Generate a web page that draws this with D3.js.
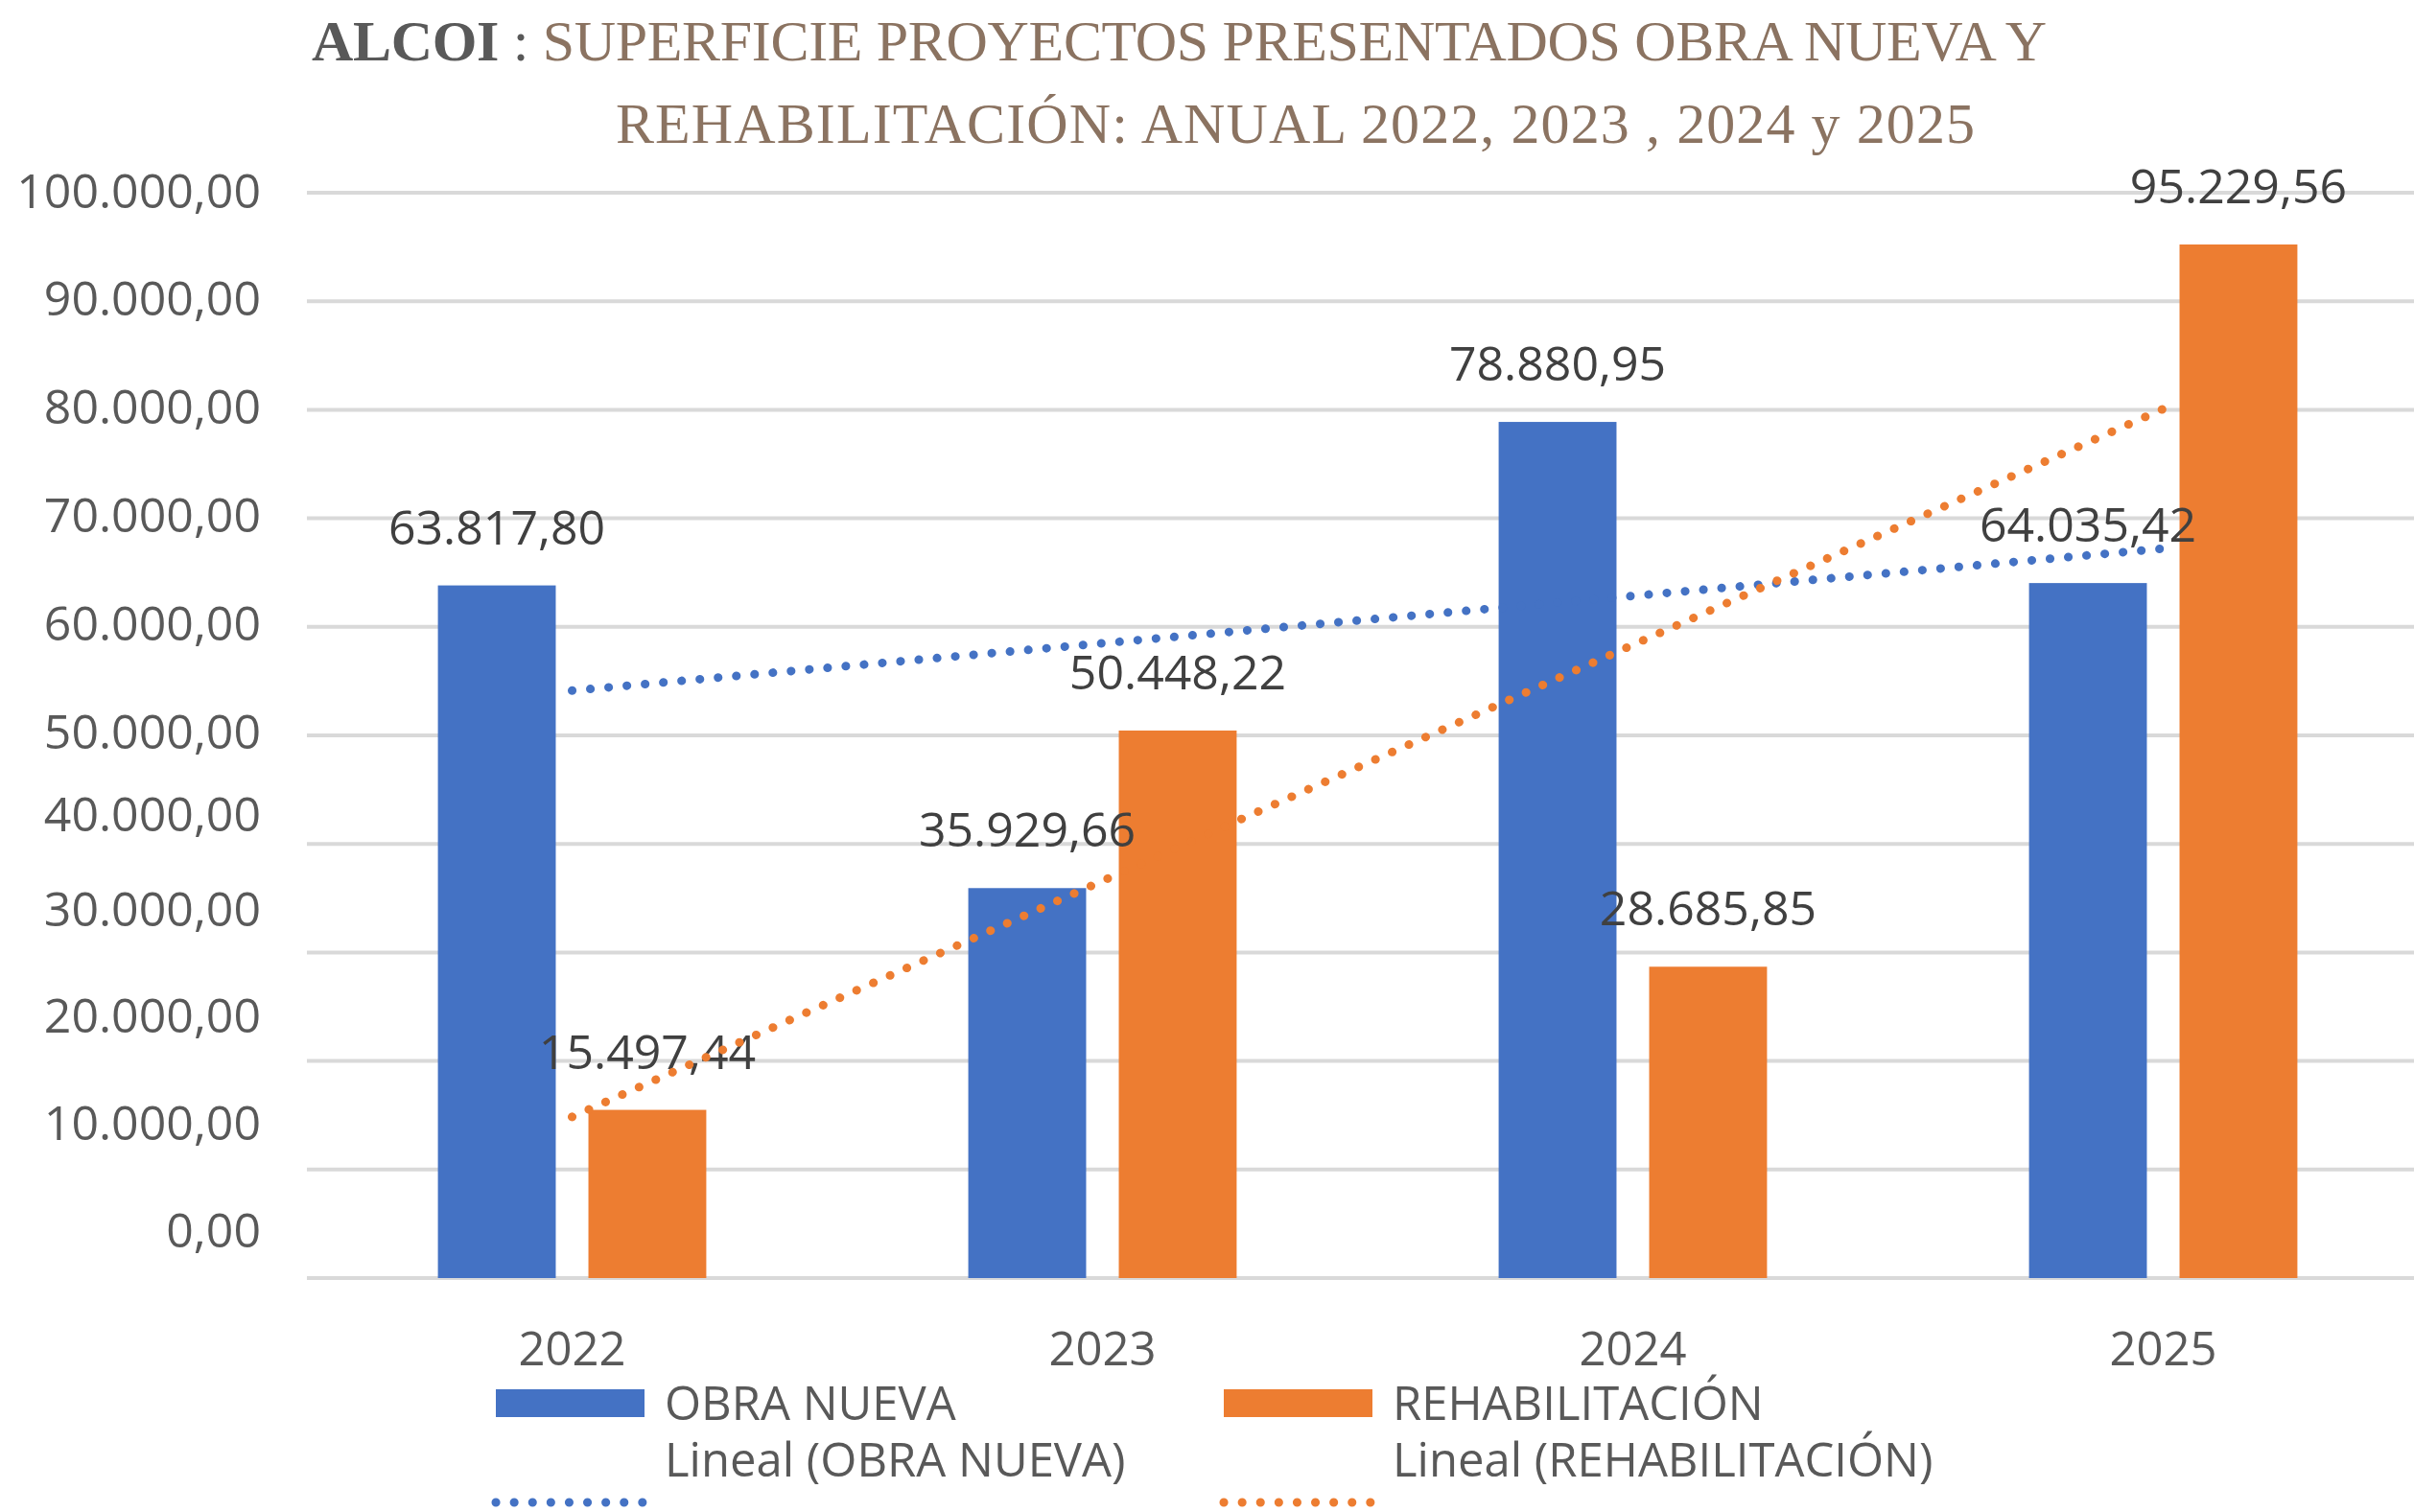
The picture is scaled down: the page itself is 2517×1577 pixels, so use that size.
<!DOCTYPE html>
<html>
<head>
<meta charset="utf-8">
<script src="https://cdn.jsdelivr.net/npm/d3@7"></script>
<style>
  body { margin: 0; background: #fff; }
  svg { display: block; }
</style>
</head>
<body>
<svg width="2517" height="1577"></svg>
<script>
// datos
var years = ["2022", "2023", "2024", "2025"];
var obraNueva = [63817.80, 35929.66, 78880.95, 64035.42];
var rehabilitacion = [15497.44, 50448.22, 28685.85, 95229.56];
var seriesNames = ["OBRA NUEVA", "REHABILITACIÓN"];
var trendNames = ["Lineal (OBRA NUEVA)", "Lineal (REHABILITACIÓN)"];
var yTicks = [0, 10000, 20000, 30000, 40000, 50000, 60000, 70000, 80000, 90000, 100000];

var colors = ["#4472C4", "#ED7D31"];
var allSeries = [obraNueva, rehabilitacion];

var es = d3.formatLocale({ decimal: ",", thousands: ".", grouping: [3], currency: ["", " €"] });
var fmt = es.format(",.2f");

var svg = d3.select("svg");
var font = "'Open Sans', 'Noto Sans', sans-serif";
var serif = "'Liberation Serif', 'Times New Roman', serif";

// escalas
var x0 = d3.scaleBand()
    .domain(years)
    .range([320, 2532])
    .paddingInner(0.494)
    .paddingOuter(0.247);

var x1 = d3.scaleBand()
    .domain(seriesNames)
    .range([0, x0.bandwidth()])
    .paddingInner(0.217);

var y = d3.scaleLinear()
    .domain([0, 100000])
    .range([1333, 201]);

// las etiquetas del eje van algo desplazadas respecto a la rejilla en la parte baja
var yLabel = d3.scaleLinear()
    .domain([0, 30000, 40000, 50000, 100000])
    .range([y(0) - 49, y(30000) - 44, y(40000) - 30, y(50000) - 3, y(100000) - 1]);

// rejilla
svg.append("g")
    .selectAll("line")
    .data(yTicks)
    .enter()
    .append("line")
    .attr("x1", 320)
    .attr("x2", 2517)
    .attr("y1", function (d) { return y(d); })
    .attr("y2", function (d) { return y(d); })
    .attr("stroke", "#d9d9d9")
    .attr("stroke-width", 4);

// eje y
var yAxis = svg.append("g")
    .attr("transform", "translate(320,0)")
    .call(d3.axisLeft(yLabel).tickValues(yTicks).tickFormat(fmt).tickSize(0).tickPadding(48));
yAxis.select(".domain").remove();
yAxis.selectAll("text")
    .attr("font-family", font)
    .attr("font-size", 50)
    .attr("fill", "#595959");

// eje x
var xAxis = svg.append("g")
    .attr("transform", "translate(0,1333)")
    .call(d3.axisBottom(x0.copy().paddingInner(0).paddingOuter(0)).tickSize(0).tickPadding(56));
xAxis.select(".domain").remove();
xAxis.selectAll("text")
    .attr("font-family", font)
    .attr("font-size", 49)
    .attr("fill", "#595959");

// barras
var rows = years.map(function (yr, i) {
    return { year: yr, values: seriesNames.map(function (s, j) { return { name: s, idx: j, value: allSeries[j][i] }; }) };
});

var groups = svg.selectAll("g.grupo")
    .data(rows)
    .enter()
    .append("g")
    .attr("class", "grupo")
    .attr("transform", function (d) { return "translate(" + x0(d.year) + ",0)"; });

groups.selectAll("rect")
    .data(function (d) { return d.values; })
    .enter()
    .append("rect")
    .attr("x", function (d) { return x1(d.name); })
    .attr("y", function (d) { return y(d.value); })
    .attr("width", x1.bandwidth())
    .attr("height", function (d) { return y(0) - y(d.value); })
    .attr("fill", function (d) { return colors[d.idx]; });

// lineas de tendencia (regresion lineal como en Excel)
function linReg(vals) {
    var n = vals.length;
    var xs = d3.range(1, n + 1);
    var mx = d3.mean(xs), my = d3.mean(vals);
    var num = d3.sum(xs, function (xv, i) { return (xv - mx) * (vals[i] - my); });
    var den = d3.sum(xs, function (xv) { return (xv - mx) * (xv - mx); });
    var b = num / den, a = my - b * mx;
    return xs.map(function (xv) { return a + b * xv; });
}

var trendLine = d3.line()
    .x(function (d, i) { return x0(years[i]) + x0.bandwidth() / 2; })
    .y(function (d) { return y(d); });

allSeries.forEach(function (vals, j) {
    svg.append("path")
        .datum(linReg(vals))
        .attr("d", trendLine)
        .attr("fill", "none")
        .attr("stroke", colors[j])
        .attr("stroke-width", 9)
        .attr("stroke-linecap", "round")
        .attr("stroke-dasharray", "0.1,19");
});

// etiquetas de datos
groups.selectAll("text.valor")
    .data(function (d) { return d.values; })
    .enter()
    .append("text")
    .attr("class", "valor")
    .attr("x", function (d) { return x1(d.name) + x1.bandwidth() / 2; })
    .attr("y", function (d) { return y(d.value) - 43; })
    .attr("text-anchor", "middle")
    .attr("font-family", font)
    .attr("font-size", 50)
    .attr("fill", "#404040")
    .text(function (d) { return fmt(d.value); });

// titulo
var title = svg.append("text")
    .attr("x", 325)
    .attr("y", 63)
    .attr("font-family", serif)
    .attr("font-size", 60)
    .attr("textLength", 1809)
    .attr("lengthAdjust", "spacing");
title.append("tspan").attr("font-weight", "bold").attr("fill", "#595959").text("ALCOI");
title.append("tspan").attr("fill", "#595959").text(" : ");
title.append("tspan").attr("fill", "#8B7361").text("SUPERFICIE PROYECTOS PRESENTADOS OBRA NUEVA Y");

svg.append("text")
    .attr("x", 642)
    .attr("y", 149)
    .attr("font-family", serif)
    .attr("font-size", 60)
    .attr("textLength", 1417)
    .attr("lengthAdjust", "spacing")
    .attr("fill", "#8B7361")
    .text("REHABILITACIÓN: ANUAL 2022, 2023 , 2024 y 2025");

// leyenda
var legX = [517, 1276];
var legend = svg.append("g");
seriesNames.forEach(function (s, j) {
    legend.append("rect")
        .attr("x", legX[j])
        .attr("y", 1449)
        .attr("width", 155)
        .attr("height", 29)
        .attr("fill", colors[j]);
    legend.append("text")
        .attr("x", legX[j] + 176)
        .attr("y", 1464)
        .attr("dy", "0.35em")
        .attr("font-family", font)
        .attr("font-size", 49)
        .attr("fill", "#595959")
        .text(s);
    legend.append("text")
        .attr("x", legX[j] + 176)
        .attr("y", 1523)
        .attr("dy", "0.35em")
        .attr("font-family", font)
        .attr("font-size", 49)
        .attr("fill", "#595959")
        .text(trendNames[j]);
    legend.append("line")
        .attr("x1", legX[j])
        .attr("x2", legX[j] + 155)
        .attr("y1", 1567)
        .attr("y2", 1567)
        .attr("stroke", colors[j])
        .attr("stroke-width", 9)
        .attr("stroke-linecap", "round")
        .attr("stroke-dasharray", "0.1,19");
});
</script>
</body>
</html>
